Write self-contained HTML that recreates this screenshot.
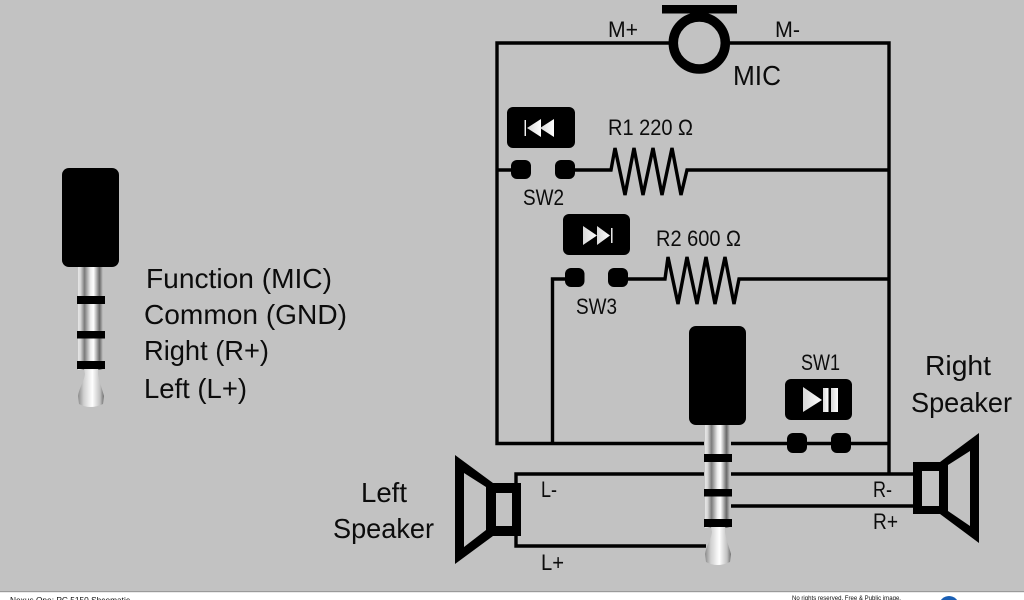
<!DOCTYPE html>
<html>
<head>
<meta charset="utf-8">
<title>Nexus One PC 5150 Schematic</title>
<style>
html,body{margin:0;padding:0;width:1024px;height:600px;overflow:hidden;background:#fff}
svg{display:block;filter:blur(.35px)}
text{font-family:"Liberation Sans",sans-serif;fill:#0c0c0c}
</style>
</head>
<body>
<svg width="1024" height="600" viewBox="0 0 1024 600" xmlns="http://www.w3.org/2000/svg">
<defs>
<linearGradient id="metal" x1="0" y1="0" x2="1" y2="0">
<stop offset="0" stop-color="#e6e6e6"/>
<stop offset=".1" stop-color="#d8d8d8"/>
<stop offset=".26" stop-color="#7a7a7a"/>
<stop offset=".5" stop-color="#ececec"/>
<stop offset=".62" stop-color="#ffffff"/>
<stop offset=".86" stop-color="#686868"/>
<stop offset="1" stop-color="#c4c4c4"/>
</linearGradient>
<linearGradient id="tip" x1="0" y1="0" x2="1" y2="0">
<stop offset="0" stop-color="#8a8a8a"/>
<stop offset=".22" stop-color="#cfcfcf"/>
<stop offset=".55" stop-color="#ffffff"/>
<stop offset=".85" stop-color="#c0c0c0"/>
<stop offset="1" stop-color="#6e6e6e"/>
</linearGradient>
<linearGradient id="icon" x1="0" y1="0" x2="1" y2="0">
<stop offset="0" stop-color="#d8d8d8"/>
<stop offset="1" stop-color="#ffffff"/>
</linearGradient>
<g id="plug">
<rect x="78" y="262" width="25" height="108" fill="url(#metal)"/>
<path d="M84 369L85 374C84 382 79 388 78 396L79 404Q90 410 103 404L104 396C102 388 99 382 98 374L98 369Z" fill="url(#tip)"/>
<rect x="62" y="168" width="57" height="99" rx="7" fill="#000"/>
<rect x="77" y="296" width="28" height="8" fill="#000"/>
<rect x="77" y="331" width="28" height="7.5" fill="#000"/>
<rect x="77" y="361" width="28" height="8" fill="#000"/>
</g>
</defs>

<rect width="1024" height="591" fill="#c2c2c2"/>
<rect y="591" width="1024" height="1.2" fill="#9a9a9a"/>

<!-- wires -->
<g fill="none" stroke="#000" stroke-width="3.4">
<path d="M672 43H497V443.5H704M731 443.5H889M726 43H889V474"/>
<path d="M497 170H511M575 170H611L615 148L625 195L634 148L643 195L653 148L662 195L672 148L681 195L687 170H889"/>
<path d="M889 279H739L734 304L725 257L715 304L706 257L697 304L687 257L678 304L668 257L665 279H628M565 279H552.5V443"/>
<path d="M516 484V474H704M731 474H915M731 506H915M516 535V546H706"/>
</g>

<!-- microphone -->
<circle cx="699.300" cy="43" r="26" fill="none" stroke="#000" stroke-width="9.500"/>
<rect x="662" y="5" width="75" height="8.500" fill="#000"/>

<!-- buttons -->
<g fill="#000">
<rect x="507" y="107" width="68" height="41" rx="6"/>
<rect x="511" y="160" width="20" height="19" rx="6"/>
<rect x="555" y="160" width="20" height="19" rx="6"/>
<rect x="563" y="214" width="67" height="41" rx="6"/>
<rect x="565" y="268" width="19.500" height="19" rx="6"/>
<rect x="608" y="268" width="20" height="19" rx="6"/>
<rect x="785" y="379" width="67" height="41" rx="6"/>
<rect x="787" y="433" width="20" height="20" rx="6"/>
<rect x="831" y="433" width="20" height="20" rx="6"/>
</g>
<g fill="url(#icon)">
<rect x="524.500" y="120" width="1.500" height="16"/>
<path d="M527 128L541 119V137Z"/>
<path d="M540 128L554 119V137Z"/>
<path d="M583 226V245L597 235.500Z"/>
<path d="M597 226V245L610 235.500Z"/>
<rect x="611" y="228" width="1.500" height="15"/>
<path d="M803 387V412L822 400Z"/>
<rect x="823" y="388" width="5.500" height="24"/>
<rect x="831" y="388" width="7" height="24"/>
</g>

<!-- plugs -->
<use href="#plug"/>
<use href="#plug" transform="translate(627 158)"/>

<!-- left speaker -->
<path fill="#000" fill-rule="evenodd" d="M455 455L493 483H521V536H493L455 564ZM464 473V547L486 530V487ZM496 493V526H512V493Z"/>
<!-- right speaker -->
<path fill="#000" fill-rule="evenodd" d="M913 462H940L979 433V543L940 514H913ZM922 471V506H939V471ZM948 465V511L970 526V451Z"/>

<!-- labels -->
<g font-size="28">
<text x="146" y="288" textLength="186" lengthAdjust="spacingAndGlyphs">Function (MIC)</text>
<text x="144" y="324" textLength="203" lengthAdjust="spacingAndGlyphs">Common (GND)</text>
<text x="144" y="360" textLength="125" lengthAdjust="spacingAndGlyphs">Right (R+)</text>
<text x="144" y="398" textLength="103" lengthAdjust="spacingAndGlyphs">Left (L+)</text>
<text x="733" y="85" textLength="48" lengthAdjust="spacingAndGlyphs">MIC</text>
<text x="925" y="375" textLength="66" lengthAdjust="spacingAndGlyphs">Right</text>
<text x="911" y="412" textLength="101" lengthAdjust="spacingAndGlyphs">Speaker</text>
<text x="361" y="502" textLength="46" lengthAdjust="spacingAndGlyphs">Left</text>
<text x="333" y="538" textLength="101" lengthAdjust="spacingAndGlyphs">Speaker</text>
</g>
<g font-size="22">
<text x="608" y="37" textLength="30" lengthAdjust="spacingAndGlyphs">M+</text>
<text x="775" y="37" textLength="25" lengthAdjust="spacingAndGlyphs">M-</text>
<text x="608" y="135" textLength="85" lengthAdjust="spacingAndGlyphs">R1 220 Ω</text>
<text x="523" y="205" textLength="41" lengthAdjust="spacingAndGlyphs">SW2</text>
<text x="656" y="246" textLength="85" lengthAdjust="spacingAndGlyphs">R2 600 Ω</text>
<text x="576" y="314" textLength="41" lengthAdjust="spacingAndGlyphs">SW3</text>
<text x="801" y="370" textLength="39" lengthAdjust="spacingAndGlyphs">SW1</text>
<text x="541" y="497" textLength="16" lengthAdjust="spacingAndGlyphs">L-</text>
<text x="541" y="570" textLength="23" lengthAdjust="spacingAndGlyphs">L+</text>
<text x="873" y="497" textLength="19" lengthAdjust="spacingAndGlyphs">R-</text>
<text x="873" y="529" textLength="25" lengthAdjust="spacingAndGlyphs">R+</text>
</g>

<!-- footer -->
<text x="10" y="603" font-size="8.500" textLength="120" lengthAdjust="spacingAndGlyphs">Nexus One: PC 5150 Shcematic</text>
<text x="792" y="600" font-size="6.500" textLength="109" lengthAdjust="spacingAndGlyphs">No rights reserved. Free &amp; Public image.</text>
<circle cx="949" cy="606" r="10" fill="#1a5fb4"/>
</svg>
</body>
</html>
